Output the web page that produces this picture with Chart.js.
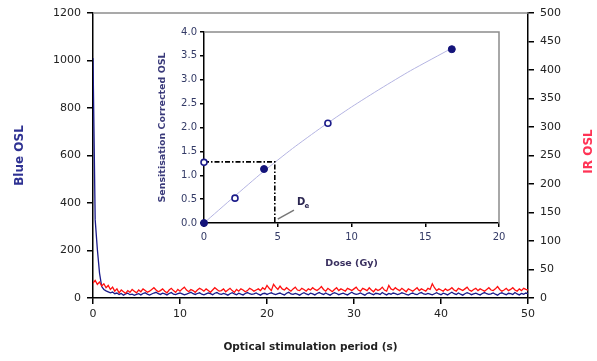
<!DOCTYPE html>
<html>
<head>
<meta charset="utf-8">
<script src="https://cdn.jsdelivr.net/npm/chart.js@4/dist/chart.umd.min.js"></script>
<style>
  html, body { margin: 0; padding: 0; background: #fff; }
  #wrap { position: relative; width: 597px; height: 361px; }
  #main { position: absolute; left: 0; top: 0; }
  #inset { position: absolute; left: 140px; top: 20px; }
</style>
</head>
<body>
<div id="wrap">
  <canvas id="main" width="597" height="361"></canvas>
  <canvas id="inset" width="370" height="255"></canvas>
</div>
<script>
// --- donnees du graphe principal (pas de 0.25 s) ---
const pasTemps = 0.25;

const blueOSL = [
  1010, 330, 205, 105, 48, 36, 30, 26, 22, 25, 18, 21, 15, 19, 12, 17, 20, 14, 16, 11,
  15, 18, 13, 19, 22, 16, 12, 17, 21, 24, 18, 15, 20, 17, 13, 19, 23, 16, 14, 18,
  21, 17, 13, 16, 20, 24, 18, 15, 19, 22, 16, 13, 17, 21, 18, 14, 20, 23, 17, 15,
  19, 16, 12, 18, 22, 17, 14, 20, 16, 13, 19, 23, 18, 15, 17, 21, 16, 12, 18, 20,
  15, 19, 22, 17, 14, 18, 21, 16, 13, 20, 24, 17, 15, 19, 16, 12, 18, 22, 17, 14,
  20, 17, 13, 19, 23, 18, 15, 21, 16, 12, 18, 22, 19, 14, 17, 20, 16, 13, 19, 24,
  18, 15, 17, 21, 16, 12, 19, 22, 17, 14, 20, 18, 15, 23, 17, 13, 19, 16, 21, 18,
  14, 17, 22, 19, 15, 12, 18, 21, 16, 14, 20, 23, 17, 15, 19, 16, 13, 18, 22, 17,
  14, 20, 17, 13, 19, 24, 18, 15, 21, 16, 12, 18, 22, 19, 14, 17, 20, 16, 13, 19,
  23, 18, 15, 17, 21, 16, 12, 19, 22, 17, 14, 20, 18, 15, 23, 17, 13, 19, 16, 21, 18
];

const irOSL = [
  26, 31, 24, 28, 21, 25, 18, 22, 15, 19, 12, 16, 9, 14, 11, 8, 13, 10, 15, 12,
  9, 14, 11, 16, 13, 10, 12, 15, 18, 14, 11, 13, 16, 12, 9, 14, 17, 13, 10, 15,
  12, 16, 19, 14, 11, 15, 13, 10, 14, 17, 15, 12, 16, 13, 10, 14, 18, 15, 12, 13,
  16, 11, 14, 17, 13, 10, 15, 12, 16, 14, 11, 13, 17, 15, 12, 14, 16, 13, 18, 15,
  22, 17, 13, 24, 19, 15, 21, 16, 14, 18, 15, 12, 16, 19, 14, 13, 17, 15, 12, 16,
  14, 18, 15, 13, 16, 20, 15, 12, 17, 14, 11, 15, 18, 13, 16, 14, 12, 17, 15, 13,
  16, 19, 14, 12, 17, 15, 13, 18, 14, 11, 16, 13, 15, 19, 14, 12, 22, 16, 14, 18,
  15, 13, 17, 14, 11, 16, 14, 12, 15, 18, 13, 16, 14, 12, 17, 15, 25, 18, 13, 16,
  14, 12, 16, 13, 15, 18, 14, 12, 17, 15, 13, 16, 19, 14, 12, 15, 17, 13, 16, 14,
  12, 15, 18, 14, 13, 16, 20, 15, 12, 14, 17, 13, 15, 18, 14, 12, 16, 13, 17, 15, 14
];

// --- donnees de l'encart (courbe dose-reponse) ---
const doseFit = [0, 2, 4, 6, 8, 10, 12, 14, 16.8];
const oslFit = [0, 0.54, 1.07, 1.56, 2.01, 2.43, 2.82, 3.19, 3.66];

const doseOuverts = [0, 2.1, 8.4];
const oslOuverts = [1.27, 0.52, 2.09];

const dosePleins = [0, 4.07, 16.8];
const oslPleins = [0, 1.13, 3.64];

const deDose = 4.8;
const deOSL = 1.28;

function points(xs, ys) {
  return ys.map((y, i) => ({ x: xs[i], y: y }));
}

const temps = blueOSL.map((v, i) => i * pasTemps);

const police = "'DejaVu Sans', Verdana, sans-serif";

// trait gris en haut + titre IR OSL
const cadrePrincipal = {
  id: "cadrePrincipal",
  afterDraw(chart) {
    const ctx = chart.ctx;
    const a = chart.chartArea;
    ctx.save();
    ctx.strokeStyle = "#8c8c8c";
    ctx.lineWidth = 1.5;
    ctx.beginPath();
    ctx.moveTo(a.left, a.top);
    ctx.lineTo(a.right, a.top);
    ctx.stroke();

    ctx.translate(589, (a.top + a.bottom) / 2 - 4);
    ctx.rotate(-Math.PI / 2);
    ctx.fillStyle = "#ff3355";
    ctx.font = "bold 12px " + police;
    ctx.textAlign = "center";
    ctx.textBaseline = "middle";
    ctx.fillText("IR OSL", 0, 0);
    ctx.restore();
  },
};

new Chart(document.getElementById("main"), {
  type: "line",
  data: {
    datasets: [
      {
        label: "IR OSL",
        data: points(temps, irOSL),
        yAxisID: "yR",
        borderColor: "#ff1010",
        borderWidth: 1.3,
        pointRadius: 0,
      },
      {
        label: "Blue OSL",
        data: points(temps, blueOSL),
        yAxisID: "yL",
        borderColor: "#1a1a8a",
        borderWidth: 1.3,
        pointRadius: 0,
      },
    ],
  },
  options: {
    responsive: false,
    animation: false,
    layout: { padding: { top: 13, left: 0, right: 0, bottom: 0 } },
    plugins: { legend: { display: false }, tooltip: { enabled: false } },
    scales: {
      x: {
        type: "linear",
        min: 0,
        max: 50,
        ticks: { stepSize: 10, color: "#222", font: { family: police, size: 11 }, padding: 4 },
        grid: { drawOnChartArea: false, tickLength: 6, color: "#000", lineWidth: 1.5 },
        border: { color: "#000", width: 1.5 },
        title: {
          display: true,
          text: "Optical stimulation period (s)",
          color: "#222",
          font: { family: police, size: 10.5, weight: "bold" },
          padding: { top: 0, bottom: 7 },
        },
        afterFit(s) { s.height = 63; },
      },
      yL: {
        position: "left",
        min: 0,
        max: 1200,
        ticks: {
          stepSize: 200,
          color: "#222",
          font: { family: police, size: 11 },
          padding: 6,
          callback: (v) => String(v),
        },
        grid: { drawOnChartArea: false, tickLength: 6, color: "#000", lineWidth: 1.5 },
        border: { color: "#000", width: 1.5 },
        title: {
          display: true,
          text: "Blue OSL",
          color: "#2e3192",
          font: { family: police, size: 12, weight: "bold" },
          padding: { top: 13, bottom: 0 },
        },
        afterFit(s) { s.width = 93; },
      },
      yR: {
        position: "right",
        min: 0,
        max: 500,
        ticks: { stepSize: 50, color: "#222", font: { family: police, size: 11 }, padding: 6 },
        grid: { drawOnChartArea: false, tickLength: 6, color: "#000", lineWidth: 1.5 },
        border: { color: "#000", width: 1.5 },
        afterFit(s) { s.width = 69; },
      },
    },
  },
  plugins: [cadrePrincipal],
});

// cadre gris de l'encart + etiquette De
const cadreEncart = {
  id: "cadreEncart",
  afterDraw(chart) {
    const ctx = chart.ctx;
    const a = chart.chartArea;
    ctx.save();
    ctx.strokeStyle = "#8c8c8c";
    ctx.lineWidth = 1.5;
    ctx.beginPath();
    ctx.moveTo(a.left, a.top);
    ctx.lineTo(a.right, a.top);
    ctx.lineTo(a.right, a.bottom);
    ctx.stroke();

    const xs = chart.scales.x;
    const ys = chart.scales.y;
    const px = xs.getPixelForValue(6.3);
    const py = ys.getPixelForValue(0.44);
    ctx.fillStyle = "#2a2550";
    ctx.font = "bold 10px " + police;
    ctx.textBaseline = "middle";
    ctx.fillText("D", px, py);
    ctx.font = "bold 7px " + police;
    ctx.fillText("e", px + 7.5, py + 4);
    ctx.restore();
  },
};

new Chart(document.getElementById("inset"), {
  type: "line",
  data: {
    datasets: [
      {
        data: points(dosePleins, oslPleins),
        showLine: false,
        pointRadius: 3.5,
        pointBackgroundColor: "#14147a",
        pointBorderColor: "#14147a",
        clip: false,
      },
      {
        data: points(doseOuverts, oslOuverts),
        showLine: false,
        pointRadius: 3,
        pointBackgroundColor: "#fff",
        pointBorderColor: "#1c1c8a",
        pointBorderWidth: 1.6,
        clip: false,
      },
      {
        data: [
          { x: 0, y: deOSL },
          { x: deDose, y: deOSL },
          { x: deDose, y: 0 },
        ],
        borderColor: "#000",
        borderWidth: 1.6,
        borderDash: [5, 2, 1.5, 2],
        pointRadius: 0,
      },
      {
        data: [
          { x: 5.0, y: 0.08 },
          { x: 6.1, y: 0.27 },
        ],
        borderColor: "#777",
        borderWidth: 1.5,
        pointRadius: 0,
      },
      {
        data: points(doseFit, oslFit),
        borderColor: "#b4b4e2",
        borderWidth: 1,
        pointRadius: 0,
        tension: 0.2,
      },
    ],
  },
  options: {
    responsive: false,
    animation: false,
    layout: { padding: { top: 12, left: 0, right: 11, bottom: 0 } },
    plugins: { legend: { display: false }, tooltip: { enabled: false } },
    scales: {
      x: {
        type: "linear",
        min: 0,
        max: 20,
        ticks: { stepSize: 5, color: "#333a66", font: { family: police, size: 10 }, padding: 4 },
        grid: { drawOnChartArea: false, tickLength: 4, color: "#000", lineWidth: 1.5 },
        border: { color: "#000", width: 1.5 },
        title: {
          display: true,
          text: "Dose (Gy)",
          color: "#3a3060",
          font: { family: police, size: 9.5, weight: "bold" },
          padding: { top: 0, bottom: 6 },
        },
        afterFit(s) { s.height = 52; },
      },
      y: {
        min: 0,
        max: 4,
        ticks: {
          stepSize: 0.5,
          color: "#333a66",
          font: { family: police, size: 10 },
          padding: 3,
          callback: (v) => v.toFixed(1),
        },
        grid: { drawOnChartArea: false, tickLength: 4, color: "#000", lineWidth: 1.5 },
        border: { color: "#000", width: 1.5 },
        title: {
          display: true,
          text: "Sensitisation Corrected OSL",
          color: "#3a3a7a",
          font: { family: police, size: 9.5, weight: "bold" },
          padding: { top: 17, bottom: 0 },
        },
        afterFit(s) { s.width = 64; },
      },
    },
  },
  plugins: [cadreEncart],
});
</script>
</body>
</html>
